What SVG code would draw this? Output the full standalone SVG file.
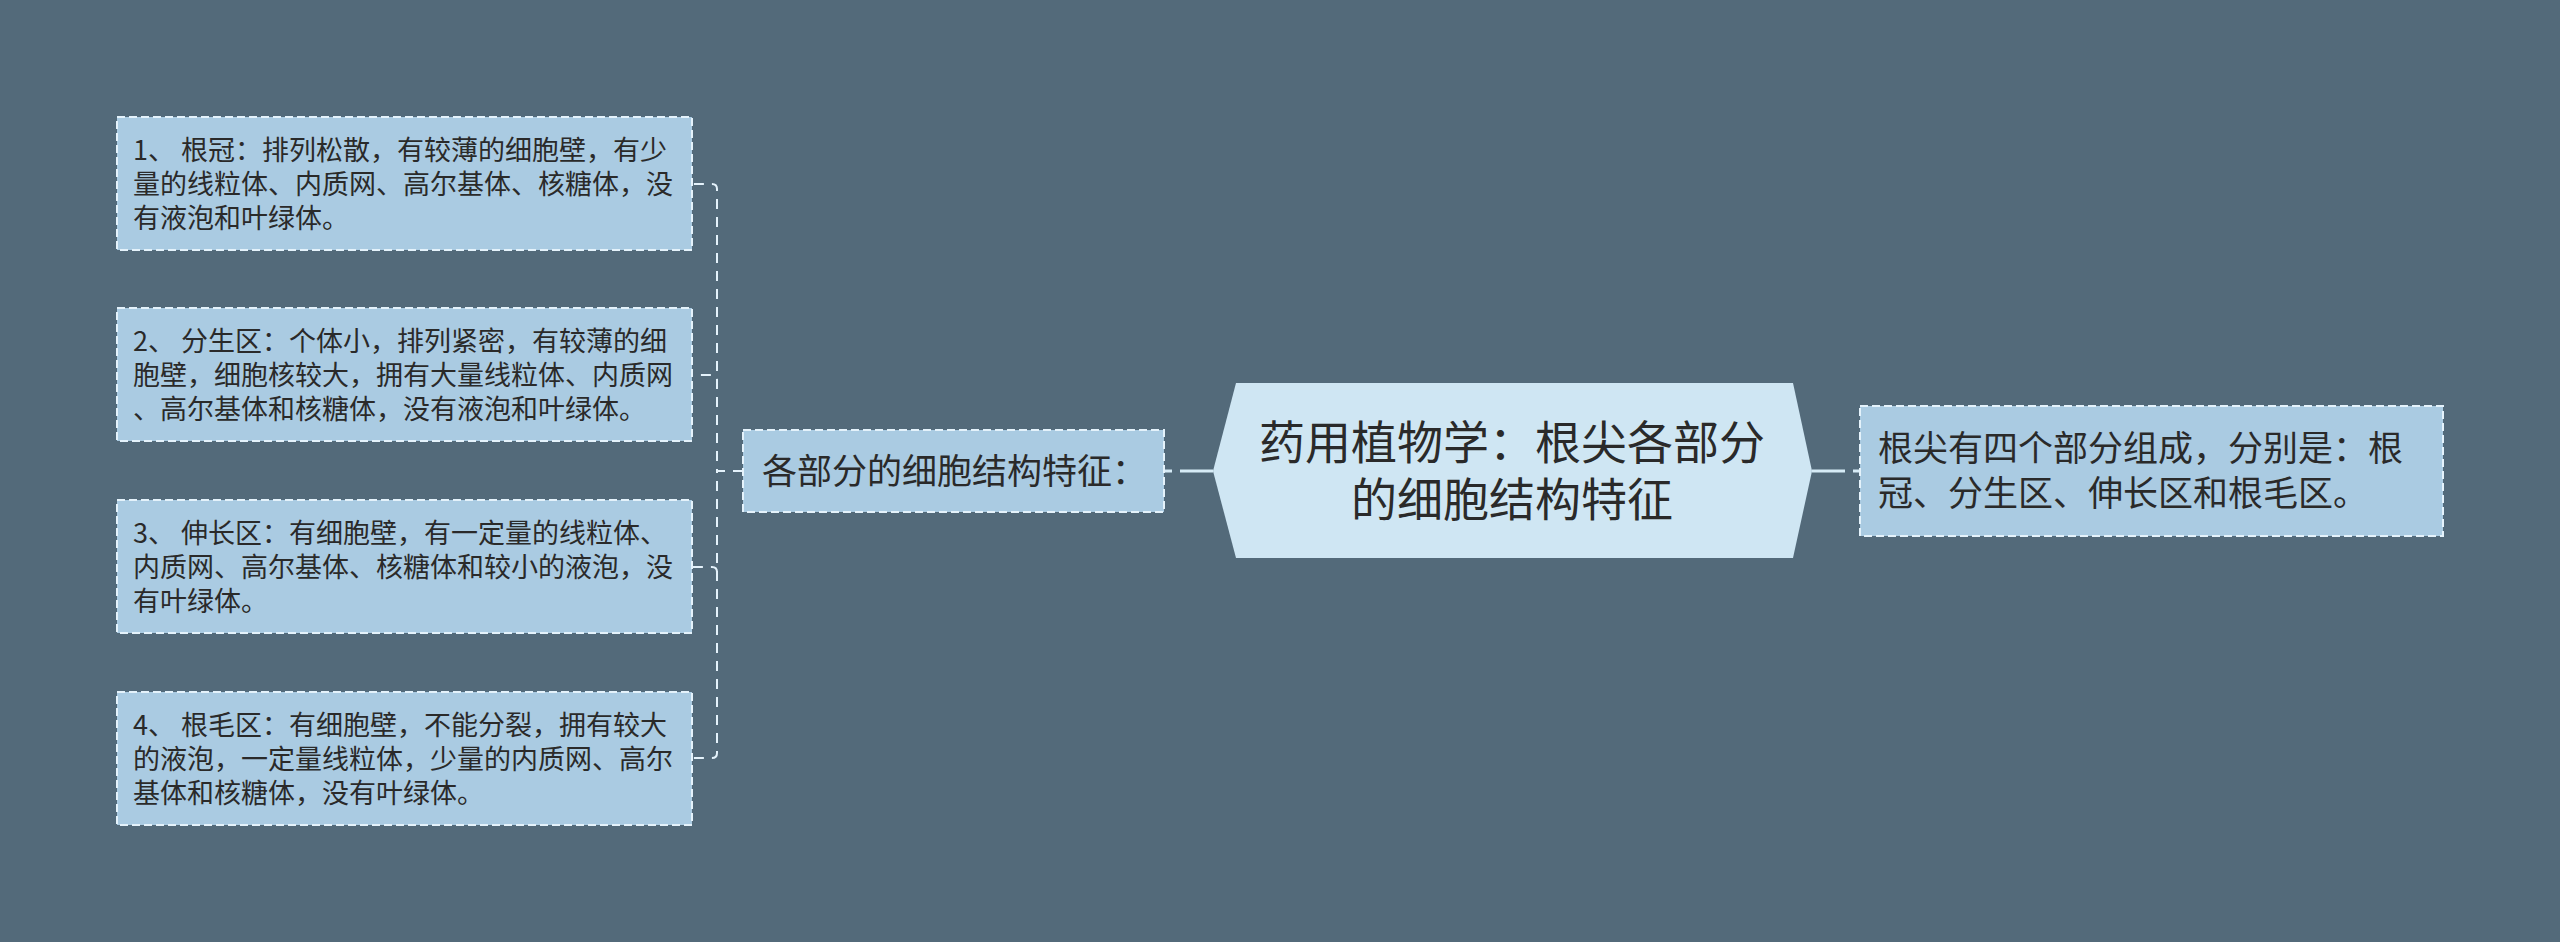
<svg xmlns="http://www.w3.org/2000/svg" width="2560" height="942" viewBox="0 0 2560 942">
<style>
.bg{fill:#536a7a}
.box{fill:#aacbe2;stroke:#e4f2fb;stroke-width:2;stroke-dasharray:8 4}
.hex{fill:#cfe6f3;stroke:none}
.t{font-family:"Noto Sans CJK SC","Noto Sans",sans-serif;fill:#2a2a2a}
.s{font-size:27px}
.m{font-size:35px}
.c{font-size:46px;text-anchor:middle}
.dash{fill:none;stroke:#e4f2fb;stroke-width:2;stroke-dasharray:10 8}
.main{fill:none;stroke:#d6ebf6;stroke-width:3}
</style>
<rect class="bg" x="0" y="0" width="2560" height="942"/>
<g id="connectors">
<path class="dash" d="M743,471 H717 V189 Q717,184 712,184 H692"/>
<path class="dash" d="M743,471 H717 V380 Q717,375 712,375 H692"/>
<path class="dash" d="M743,471 H717 V572 Q717,567 712,567 H692"/>
<path class="dash" d="M743,471 H717 V753 Q717,758 712,758 H692"/>
<path class="main" d="M1213,471 H1180"/>
<path class="main" d="M1172,471 H1165"/>
<path class="main" d="M1812,471 H1845"/>
<path class="main" d="M1853,471 H1860"/>
</g>
<g id="center">
<polygon class="hex" points="1213,471 1236,383 1793,383 1812,471 1793,558 1236,558"/>
<text class="t c" x="1512" y="459">药用植物学：根尖各部分</text>
<text class="t c" x="1512" y="516">的细胞结构特征</text>
</g>
<g id="right">
<rect class="box" x="1860" y="406" width="583" height="130"/>
<text class="t m" x="1878" y="461">根尖有四个部分组成，分别是：根</text>
<text class="t m" x="1878" y="506">冠、分生区、伸长区和根毛区。</text>
</g>
<g id="mid">
<rect class="box" x="743" y="430" width="421" height="82"/>
<text class="t m" x="762" y="484">各部分的细胞结构特征：</text>
</g>
<g id="n1">
<rect class="box" x="117" y="117" width="575" height="133"/>
<text class="t s" x="133" y="160">1、 根冠：排列松散，有较薄的细胞壁，有少</text>
<text class="t s" x="133" y="194">量的线粒体、内质网、高尔基体、核糖体，没</text>
<text class="t s" x="133" y="228">有液泡和叶绿体。</text>
</g>
<g id="n2">
<rect class="box" x="117" y="308" width="575" height="133"/>
<text class="t s" x="133" y="351">2、 分生区：个体小，排列紧密，有较薄的细</text>
<text class="t s" x="133" y="385">胞壁，细胞核较大，拥有大量线粒体、内质网</text>
<text class="t s" x="133" y="419">、高尔基体和核糖体，没有液泡和叶绿体。</text>
</g>
<g id="n3">
<rect class="box" x="117" y="500" width="575" height="133"/>
<text class="t s" x="133" y="543">3、 伸长区：有细胞壁，有一定量的线粒体、</text>
<text class="t s" x="133" y="577">内质网、高尔基体、核糖体和较小的液泡，没</text>
<text class="t s" x="133" y="611">有叶绿体。</text>
</g>
<g id="n4">
<rect class="box" x="117" y="692" width="575" height="133"/>
<text class="t s" x="133" y="735">4、 根毛区：有细胞壁，不能分裂，拥有较大</text>
<text class="t s" x="133" y="769">的液泡，一定量线粒体，少量的内质网、高尔</text>
<text class="t s" x="133" y="803">基体和核糖体，没有叶绿体。</text>
</g>
</svg>
